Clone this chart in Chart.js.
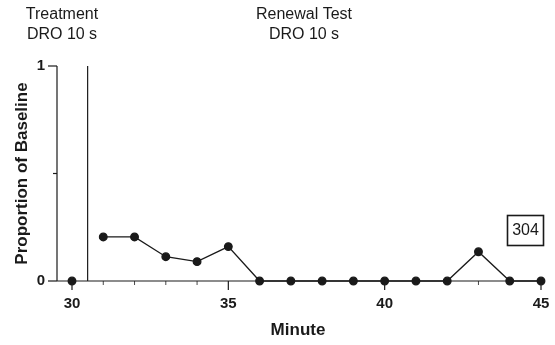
<!DOCTYPE html>
<html>
<head>
<meta charset="utf-8">
<script src="https://cdn.jsdelivr.net/npm/chart.js@4"></script>
<style>
  html, body { margin: 0; padding: 0; background: #fff; }
  #wrap { width: 555px; height: 345px; position: relative; }
</style>
</head>
<body>
<div id="wrap"><canvas id="chart" width="555" height="345"></canvas></div>
<script>
// Data
const treatmentMinutes = [30];
const treatmentValues = [0];
const renewalMinutes = [31, 32, 33, 34, 35, 36, 37, 38, 39, 40, 41, 42, 43, 44, 45];
const renewalValues = [0.205, 0.205, 0.113, 0.09, 0.16, 0, 0, 0, 0, 0, 0, 0, 0.136, 0, 0];
const xMajorTicks = [30, 35, 40, 45];
const xMinorTicks = [31, 32, 33, 34, 36, 37, 38, 39, 41, 42, 43, 44];
const yMajorTicks = [0, 1];
const yMinorTicks = [0.5];
const phaseChange = 30.5;
const phaseLabels = [
  { x: 30, lines: ["Treatment", "DRO 10 s"] },
  { x: 37.5, lines: ["Renewal Test", "DRO 10 s"] },
];
const subjectId = "304";

const ink = "#1a1a1a";

function toPoints(xs, ys) {
  return xs.map((x, i) => ({ x: x, y: ys[i] }));
}

// Axes, phase line and labels drawn in Prism style
const axesPlugin = {
  id: "axesPlugin",
  beforeDatasetsDraw(chart) {
    const ctx = chart.ctx;
    const xs = chart.scales.x;
    const ys = chart.scales.y;
    const area = chart.chartArea;
    const y0 = ys.getPixelForValue(0);
    const y1 = ys.getPixelForValue(1);
    const xEnd = xs.getPixelForValue(45);

    ctx.save();
    ctx.strokeStyle = ink;
    ctx.lineWidth = 1.2;

    // y axis
    ctx.beginPath();
    ctx.moveTo(area.left, y1);
    ctx.lineTo(area.left, y0);
    ctx.stroke();
    yMajorTicks.forEach((v) => {
      const p = ys.getPixelForValue(v);
      ctx.beginPath();
      ctx.moveTo(area.left - 9, p);
      ctx.lineTo(area.left, p);
      ctx.stroke();
    });
    yMinorTicks.forEach((v) => {
      const p = ys.getPixelForValue(v);
      ctx.beginPath();
      ctx.moveTo(area.left - 4, p);
      ctx.lineTo(area.left, p);
      ctx.stroke();
    });

    // x axis
    ctx.beginPath();
    ctx.moveTo(area.left, y0);
    ctx.lineTo(xEnd, y0);
    ctx.stroke();
    xMajorTicks.forEach((v) => {
      const p = xs.getPixelForValue(v);
      ctx.beginPath();
      ctx.moveTo(p, y0);
      ctx.lineTo(p, y0 + 9);
      ctx.stroke();
    });
    ctx.lineWidth = 0.8;
    xMinorTicks.forEach((v) => {
      const p = xs.getPixelForValue(v);
      ctx.beginPath();
      ctx.moveTo(p, y0);
      ctx.lineTo(p, y0 + 4);
      ctx.stroke();
    });

    // phase change line
    ctx.lineWidth = 1.2;
    const px = xs.getPixelForValue(phaseChange);
    ctx.beginPath();
    ctx.moveTo(px, y1);
    ctx.lineTo(px, y0);
    ctx.stroke();

    // tick labels
    ctx.fillStyle = ink;
    ctx.font = "bold 15px 'Liberation Sans', Arial, sans-serif";
    ctx.textAlign = "center";
    ctx.textBaseline = "alphabetic";
    xMajorTicks.forEach((v) => {
      ctx.fillText(String(v), xs.getPixelForValue(v), y0 + 27);
    });
    ctx.textAlign = "right";
    ctx.textBaseline = "middle";
    yMajorTicks.forEach((v) => {
      ctx.fillText(String(v), area.left - 12, ys.getPixelForValue(v));
    });

    // axis titles
    ctx.font = "bold 17px 'Liberation Sans', Arial, sans-serif";
    ctx.textAlign = "center";
    ctx.textBaseline = "alphabetic";
    ctx.fillText("Minute", 298, 335);
    ctx.save();
    ctx.translate(27, ys.getPixelForValue(0.5));
    ctx.rotate(-Math.PI / 2);
    ctx.fillText("Proportion of Baseline", 0, 0);
    ctx.restore();

    // phase labels
    ctx.font = "16px 'Liberation Sans', Arial, sans-serif";
    phaseLabels.forEach((lab, i) => {
      const cx = i === 0 ? 62 : 304;
      lab.lines.forEach((t, j) => {
        ctx.fillText(t, cx, 19 + j * 20);
      });
    });

    // participant box
    ctx.lineWidth = 1.6;
    ctx.strokeRect(507.5, 215.5, 36, 30);
    ctx.font = "16px 'Liberation Sans', Arial, sans-serif";
    ctx.textBaseline = "middle";
    ctx.fillText(subjectId, 525.5, 231);

    ctx.restore();
  },
};

const xMin = 30 - 15 * (72 - 57) / (541 - 72);

new Chart(document.getElementById("chart"), {
  type: "line",
  data: {
    datasets: [
      {
        label: "Treatment",
        data: toPoints(treatmentMinutes, treatmentValues),
        borderColor: ink,
        backgroundColor: ink,
        pointBackgroundColor: ink,
        pointBorderColor: ink,
        pointRadius: 3.8,
        borderWidth: 1.3,
        clip: false,
      },
      {
        label: "Renewal",
        data: toPoints(renewalMinutes, renewalValues),
        borderColor: ink,
        backgroundColor: ink,
        pointBackgroundColor: ink,
        pointBorderColor: ink,
        pointRadius: 3.8,
        borderWidth: 1.3,
        tension: 0,
        clip: false,
      },
    ],
  },
  options: {
    responsive: false,
    animation: false,
    events: [],
    layout: { padding: { left: 57, right: 14, top: 66, bottom: 64 } },
    plugins: { legend: { display: false }, tooltip: { enabled: false } },
    scales: {
      x: { type: "linear", min: xMin, max: 45, display: false },
      y: { type: "linear", min: 0, max: 1, display: false },
    },
  },
  plugins: [axesPlugin],
});
</script>
</body>
</html>
